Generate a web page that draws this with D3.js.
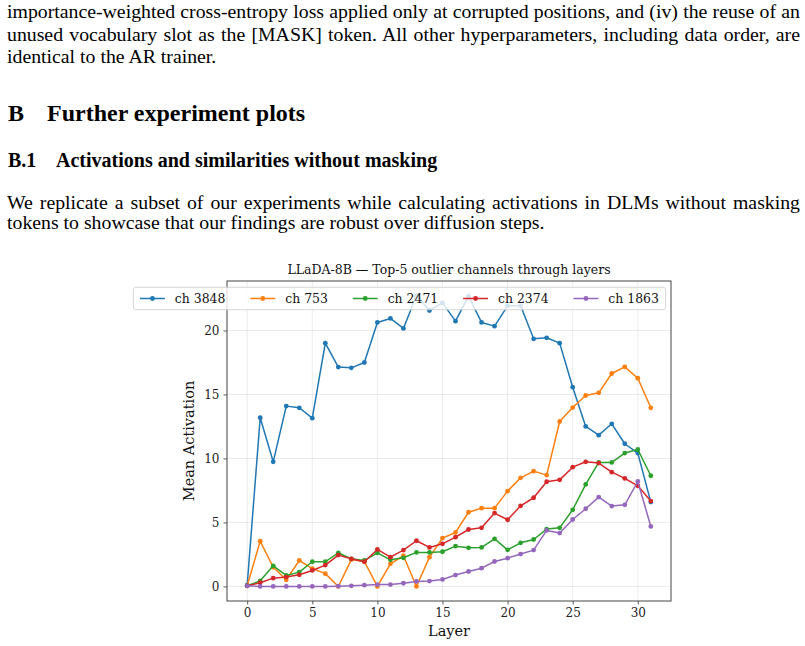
<!DOCTYPE html>
<html><head><meta charset="utf-8">
<script src="https://cdn.jsdelivr.net/npm/d3@7/dist/d3.min.js"></script>
<style>body{margin:0;background:#fff;} svg{display:block;}</style>
</head><body>
<svg id="c" width="805" height="646"></svg>
<script>
// ---------- data ----------
const layers = [0,1,2,3,4,5,6,7,8,9,10,11,12,13,14,15,16,17,18,19,20,21,22,23,24,25,26,27,28,29,30,31];
const channelNames = ["ch 3848","ch 753","ch 2471","ch 2374","ch 1863"];
const ch3848 = [0.1,13.18,9.74,14.09,13.96,13.15,19.01,17.14,17.08,17.5,20.63,20.94,20.16,22.73,21.56,22.16,20.73,22.68,20.63,20.34,21.93,21.93,19.35,19.43,19.01,15.57,12.5,11.82,12.71,11.15,10.42,6.59];
const ch753  = [0.05,3.54,1.5,0.52,2.03,1.4,1.0,0.0,2.1,1.95,0.0,1.77,2.4,0.0,2.29,3.78,4.22,5.8,6.12,6.12,7.45,8.49,9.01,8.7,12.89,13.98,14.92,15.13,16.64,17.16,16.27,13.96];
const ch2471 = [0.05,0.44,1.61,0.86,1.12,1.93,1.93,2.63,2.16,2.03,2.63,2.08,2.24,2.66,2.66,2.71,3.15,3.02,3.05,3.72,2.86,3.41,3.67,4.48,4.58,5.99,7.97,9.69,9.69,10.42,10.70,8.65];
const ch2374 = [0.05,0.29,0.65,0.73,0.91,1.25,1.67,2.45,2.16,1.93,2.89,2.29,2.84,3.57,3.05,3.33,3.85,4.45,4.58,5.73,5.21,6.30,6.93,8.18,8.33,9.32,9.74,9.64,8.93,8.44,7.86,6.67];
const ch1863 = [0.05,0.0,0.0,0.0,0.0,0.0,0.0,0.02,0.05,0.1,0.15,0.15,0.25,0.39,0.42,0.55,0.89,1.17,1.43,1.95,2.21,2.53,2.84,4.38,4.17,5.23,6.07,6.98,6.28,6.38,8.2,4.69];
const xTicks = [0,5,10,15,20,25,30];
const yTicks = [0,5,10,15,20];
const titleText = "LLaDA-8B — Top-5 outlier channels through layers";
const xLabel = "Layer";
const yLabel = "Mean Activation";

const seriesValues = [ch3848, ch753, ch2471, ch2374, ch1863];
const colors = ["#1f77b4","#ff7f0e","#2ca02c","#d62728","#9467bd"];

// ---------- page text ----------
const svg = d3.select("#c");
const serif = "'Liberation Serif','Times New Roman',serif";
const paraLines = [
  {t:"importance-weighted cross-entropy loss applied only at corrupted positions, and (iv) the reuse of an", y:18, j:true},
  {t:"unused vocabulary slot as the [MASK] token. All other hyperparameters, including data order, are", y:40.5, j:true},
  {t:"identical to the AR trainer.", y:63, j:false},
  {t:"We replicate a subset of our experiments while calculating activations in DLMs without masking", y:208.5, j:true},
  {t:"tokens to showcase that our findings are robust over diffusion steps.", y:228.5, j:false}
];
paraLines.forEach(l => {
  const t = svg.append("text").attr("x",7).attr("y",l.y)
    .style("font-family",serif).style("font-size","19.8px").attr("fill","#000").text(l.t);
  if (l.j) {
    const w = t.node().getComputedTextLength();
    const spaces = (l.t.match(/ /g)||[]).length;
    t.attr("word-spacing", ((800-7)-w)/spaces);
  }
});
svg.append("text").attr("x",8).attr("y",120.5).style("font-family",serif).style("font-size","24px").style("font-weight","bold").text("B");
svg.append("text").attr("x",47).attr("y",120.5).style("font-family",serif).style("font-size","24px").style("font-weight","bold").text("Further experiment plots");
svg.append("text").attr("x",8).attr("y",166.5).style("font-family",serif).style("font-size","20px").style("font-weight","bold").text("B.1");
svg.append("text").attr("x",56).attr("y",166.5).style("font-family",serif).style("font-size","20px").style("font-weight","bold").text("Activations and similarities without masking");

// ---------- chart ----------
const dv = "'DejaVu Serif',serif";
const L = 227, R = 671, T = 281, B = 601;
const xmin = d3.min(layers), xmax = d3.max(layers);
const allV = seriesValues.flat();
const ymin = d3.min(allV), ymax = d3.max(allV);
const x = d3.scaleLinear().domain([xmin-0.05*(xmax-xmin), xmax+0.05*(xmax-xmin)]).range([L,R]);
const y = d3.scaleLinear().domain([ymin-0.05*(ymax-ymin), ymax+0.05*(ymax-ymin)]).range([B,T]);

const g = svg.append("g");
// grid
g.append("g").selectAll("line").data(xTicks).join("line")
  .attr("x1",d=>x(d)).attr("x2",d=>x(d)).attr("y1",T).attr("y2",B)
  .attr("stroke","#b0b0b0").attr("stroke-opacity",0.3).attr("stroke-width",0.8);
g.append("g").selectAll("line").data(yTicks).join("line")
  .attr("y1",d=>y(d)).attr("y2",d=>y(d)).attr("x1",L).attr("x2",R)
  .attr("stroke","#b0b0b0").attr("stroke-opacity",0.3).attr("stroke-width",0.8);

// lines
svg.append("defs").append("clipPath").attr("id","clipA").append("rect")
  .attr("x",L).attr("y",T).attr("width",R-L).attr("height",B-T);
const lineGen = d3.line().x((d,i)=>x(layers[i])).y(d=>y(d));
seriesValues.forEach((vals,k) => {
  const sg = g.append("g").attr("clip-path","url(#clipA)");
  sg.append("path").attr("d",lineGen(vals)).attr("fill","none")
    .attr("stroke",colors[k]).attr("stroke-width",1.5).attr("stroke-linejoin","round");
  sg.selectAll("circle").data(vals).join("circle")
    .attr("cx",(d,i)=>x(layers[i])).attr("cy",d=>y(d)).attr("r",2.4).attr("fill",colors[k]);
});

// axes
const xAxis = d3.axisBottom(x).tickValues(xTicks).tickFormat(d3.format("d")).tickSize(3.5).tickPadding(4);
const yAxis = d3.axisLeft(y).tickValues(yTicks).tickFormat(d3.format("d")).tickSize(3.5).tickPadding(4);
const gx = svg.append("g").attr("transform",`translate(0,${B})`).call(xAxis);
const gy = svg.append("g").attr("transform",`translate(${L},0)`).call(yAxis);
[gx,gy].forEach(a=>{
  a.select(".domain").remove();
  a.selectAll(".tick line").attr("stroke","#333").attr("stroke-width",0.8);
  a.selectAll(".tick text").style("font-family",dv).style("font-size","12px").attr("fill","#222");
});
// frame
svg.append("rect").attr("x",L).attr("y",T).attr("width",R-L).attr("height",B-T)
  .attr("fill","none").attr("stroke","#444").attr("stroke-width",1);

// labels
svg.append("text").attr("x",(L+R)/2).attr("y",T-7).attr("text-anchor","middle")
  .style("font-family",dv).style("font-size","12.5px").attr("fill","#111").text(titleText);
svg.append("text").attr("x",(L+R)/2).attr("y",636).attr("text-anchor","middle")
  .style("font-family",dv).style("font-size","14.5px").attr("fill","#111").text(xLabel);
svg.append("text").attr("transform",`translate(194,${(T+B)/2}) rotate(-90)`).attr("text-anchor","middle")
  .style("font-family",dv).style("font-size","14.5px").attr("fill","#111").text(yLabel);

// legend
const fs = 12.45;
const lg = svg.append("g");
const bg = lg.append("rect");
const items = [];
channelNames.forEach((n,k)=>{
  const it = lg.append("g");
  it.append("line").attr("x1",0).attr("x2",fs*2).attr("y1",0).attr("y2",0).attr("stroke",colors[k]).attr("stroke-width",1.5);
  it.append("circle").attr("cx",fs).attr("cy",0).attr("r",2.4).attr("fill",colors[k]);
  const tx = it.append("text").attr("x",fs*2+fs*0.8).attr("y",4.4)
    .style("font-family",dv).style("font-size",fs+"px").attr("fill","#111").text(n);
  const w = fs*2.8 + tx.node().getComputedTextLength();
  items.push({it,w});
});
const pad = 6.7;
const total = d3.sum(items,d=>d.w) + fs*2*(items.length-1) + pad*2;
const lx0 = 133.3;
const lTop = T + 6.3, lH = 22.4;
let px = lx0 + pad;
items.forEach(d=>{ d.it.attr("transform",`translate(${px},${lTop+lH/2})`); px += d.w + fs*2; });
bg.attr("x",lx0).attr("y",lTop).attr("width",total).attr("height",lH).attr("rx",2.5)
  .attr("fill","#fff").attr("fill-opacity",0.8).attr("stroke","#ccc").attr("stroke-width",0.8);
</script>
</body></html>
